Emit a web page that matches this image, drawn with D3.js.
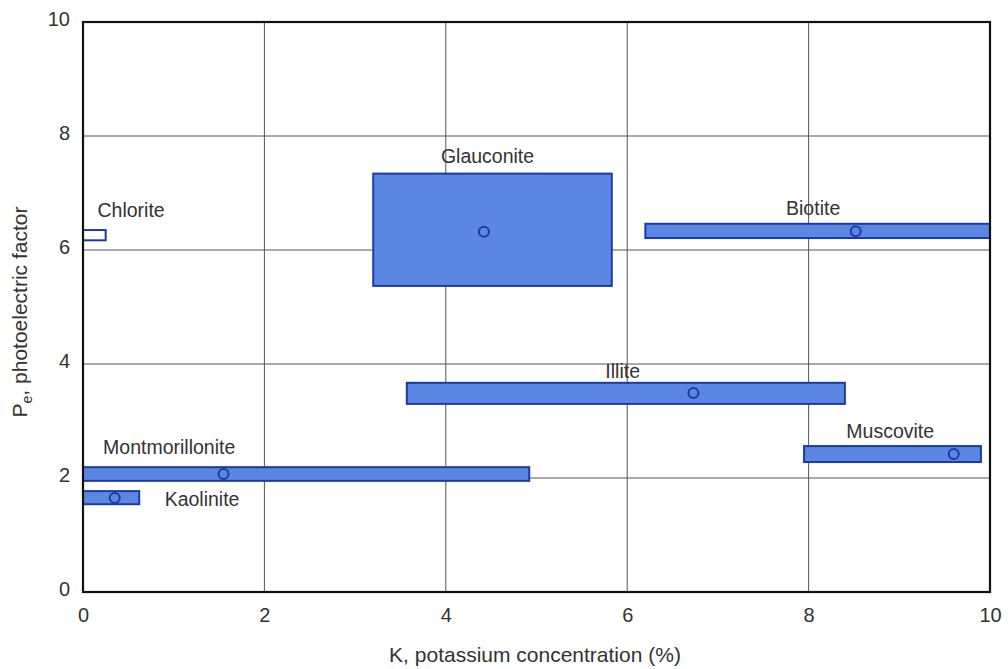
<!DOCTYPE html>
<html><head><meta charset="utf-8">
<script src="https://cdn.jsdelivr.net/npm/d3@7"></script>
<style>body{margin:0;background:#fff}svg text{font-family:"Liberation Sans",Arial,sans-serif;fill:#333}</style>
</head><body><svg id="c" width="1008" height="669"></svg>
<script>
const minerals = ["Chlorite","Glauconite","Biotite","Illite","Muscovite","Montmorillonite","Kaolinite"];
const kMin = [0, 3.2, 6.2, 3.57, 7.95, 0, 0];
const kMax = [0.25, 5.83, 10, 8.4, 9.9, 4.92, 0.62];
const peMin = [6.17, 5.37, 6.21, 3.3, 2.28, 1.95, 1.54];
const peMax = [6.35, 7.34, 6.46, 3.67, 2.56, 2.19, 1.77];
const kPoint = [null, 4.42, 8.52, 6.73, 9.6, 1.55, 0.35];
const pePoint = [null, 6.32, 6.33, 3.49, 2.42, 2.07, 1.65];
const filled = [false, true, true, true, true, true, true];
const labelK = [0.16, 4.46, 8.05, 5.95, 8.9, 0.95, 0.9];
const labelPe = [6.7, 7.65, 6.74, 3.87, 2.82, 2.54, 1.63];
const labelAnchor = ["start","middle","middle","middle","middle","middle","start"];
const xTicks = [0,2,4,6,8,10];
const yTicks = [0,2,4,6,8,10];

const svg = d3.select("#c");
const x = d3.scaleLinear().domain([0,10]).range([83,990]);
const y = d3.scaleLinear().domain([0,10]).range([592,22]);

const g = svg.append("g");
// grid
g.selectAll(".vg").data(xTicks.slice(1,-1)).join("line")
 .attr("x1",d=>x(d)).attr("x2",d=>x(d)).attr("y1",y(0)).attr("y2",y(10))
 .attr("stroke","#555").attr("stroke-width",1);
g.selectAll(".hg").data(yTicks.slice(1,-1)).join("line")
 .attr("x1",x(0)).attr("x2",x(10)).attr("y1",d=>y(d)).attr("y2",d=>y(d))
 .attr("stroke","#555").attr("stroke-width",1);

const data = minerals.map((m,i)=>({m,i}));
g.selectAll("rect.b").data(data).join("rect")
 .attr("x",d=>x(kMin[d.i])).attr("width",d=>x(kMax[d.i])-x(kMin[d.i]))
 .attr("y",d=>y(peMax[d.i])).attr("height",d=>y(peMin[d.i])-y(peMax[d.i]))
 .attr("fill",d=>filled[d.i]?"#5b87e2":"#fff").attr("stroke","#1c3aa6").attr("stroke-width",2);
g.selectAll("circle").data(data.filter(d=>kPoint[d.i]!==null)).join("circle")
 .attr("cx",d=>x(kPoint[d.i])).attr("cy",d=>y(pePoint[d.i])).attr("r",5)
 .attr("fill","none").attr("stroke","#1c3aa6").attr("stroke-width",2);
g.selectAll("text.lab").data(data).join("text")
 .attr("x",d=>x(labelK[d.i])).attr("y",d=>y(labelPe[d.i]))
 .attr("text-anchor",d=>labelAnchor[d.i]).attr("dominant-baseline","central")
 .attr("font-size",19.5).text(d=>d.m);

// frame
g.append("rect").attr("x",x(0)).attr("y",y(10)).attr("width",x(10)-x(0)).attr("height",y(0)-y(10))
 .attr("fill","none").attr("stroke","#111").attr("stroke-width",2.2);

// axes
const xa = svg.append("g").attr("transform",`translate(0,${y(0)})`)
 .call(d3.axisBottom(x).tickValues(xTicks).tickSize(0).tickPadding(16));
const ya = svg.append("g").attr("transform",`translate(${x(0)},0)`)
 .call(d3.axisLeft(y).tickValues(yTicks).tickSize(0).tickPadding(13));
[xa,ya].forEach(a=>{a.select(".domain").remove();a.selectAll("text").attr("font-size",20).attr("fill","#333").attr("font-family","Liberation Sans, Arial, sans-serif");});
ya.selectAll("text").attr("dy","0.15em");

svg.append("text").attr("x",535).attr("y",662).attr("text-anchor","middle").attr("font-size",21)
 .text("K, potassium concentration (%)");
const yl = svg.append("text").attr("transform","translate(27,312) rotate(-90)").attr("text-anchor","middle").attr("font-size",21);
yl.append("tspan").text("P");
yl.append("tspan").attr("font-size",14).attr("dy",5).text("e");
yl.append("tspan").attr("dy",-5).text(", photoelectric factor");
</script></body></html>
